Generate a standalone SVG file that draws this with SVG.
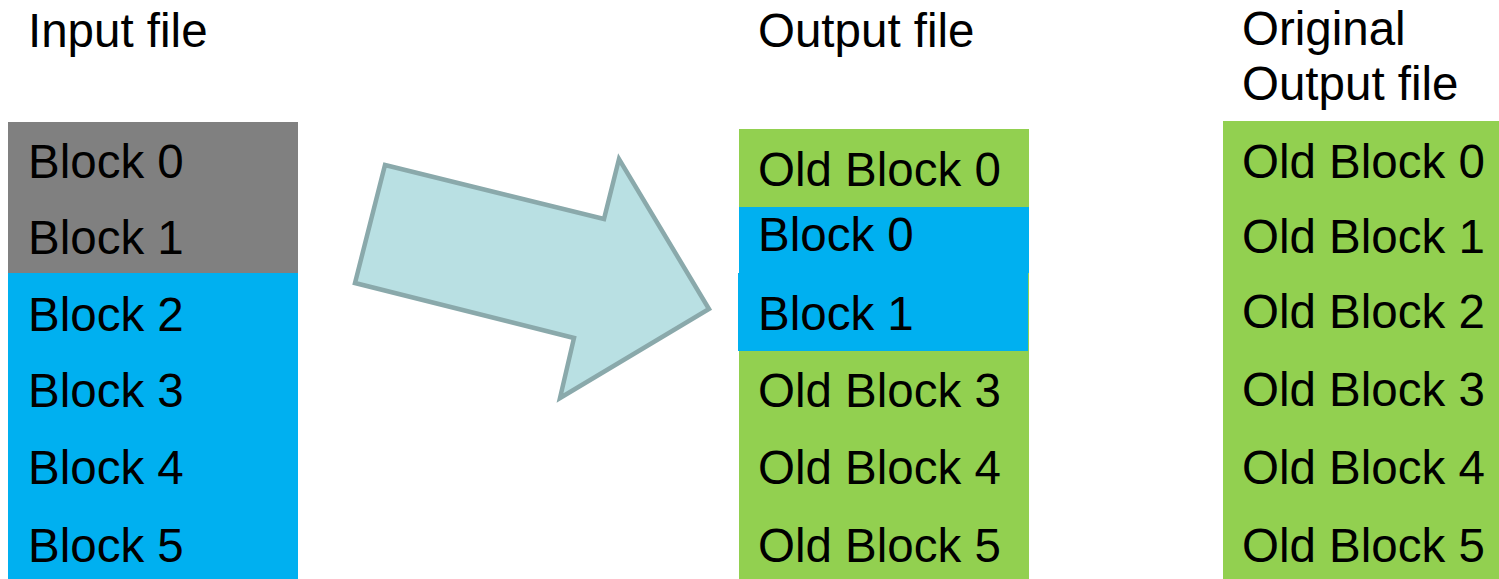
<svg xmlns="http://www.w3.org/2000/svg" width="1499" height="579" viewBox="0 0 1499 579">
<style>
text{font-family:"Liberation Sans",Arial,sans-serif;font-size:47.5px;fill:#000}
.gray{fill:#808080}.blue{fill:#00b0f0}.green{fill:#92d050}
</style>
<rect width="1499" height="579" fill="#fff"/>
<g id="input-file">
<text x="28" y="47">Input file</text>
<rect class="gray" x="8" y="122" width="290" height="151"/>
<rect class="blue" x="8" y="273" width="290" height="306"/>
<text x="28" y="178">Block 0</text>
<text x="28" y="254">Block 1</text>
<text x="28" y="331">Block 2</text>
<text x="28" y="407">Block 3</text>
<text x="28" y="484">Block 4</text>
<text x="28" y="562">Block 5</text>
</g>
<g id="connectors">
<polygon points="385,165 604,219 619,159 709,309 560,398 574,338 355,283" fill="#b9e0e3" stroke="#8aa9ab" stroke-width="4.5" stroke-linejoin="miter"/>
</g>
<g id="output-file">
<text x="758" y="47">Output file</text>
<rect class="green" x="739" y="129" width="290" height="450"/>
<rect class="blue" x="739" y="207" width="290" height="66"/>
<rect class="blue" x="738" y="273" width="290" height="78"/>
<text x="758" y="186">Old Block 0</text>
<text x="758" y="251">Block 0</text>
<text x="758" y="330">Block 1</text>
<text x="758" y="407">Old Block 3</text>
<text x="758" y="484">Old Block 4</text>
<text x="758" y="562">Old Block 5</text>
</g>
<g id="original-output-file">
<text x="1242" y="45">Original</text>
<text x="1242" y="100">Output file</text>
<rect class="green" x="1223" y="121" width="276" height="458"/>
<text x="1242" y="178">Old Block 0</text>
<text x="1242" y="253">Old Block 1</text>
<text x="1242" y="328">Old Block 2</text>
<text x="1242" y="406">Old Block 3</text>
<text x="1242" y="484">Old Block 4</text>
<text x="1242" y="562">Old Block 5</text>
</g>
</svg>
